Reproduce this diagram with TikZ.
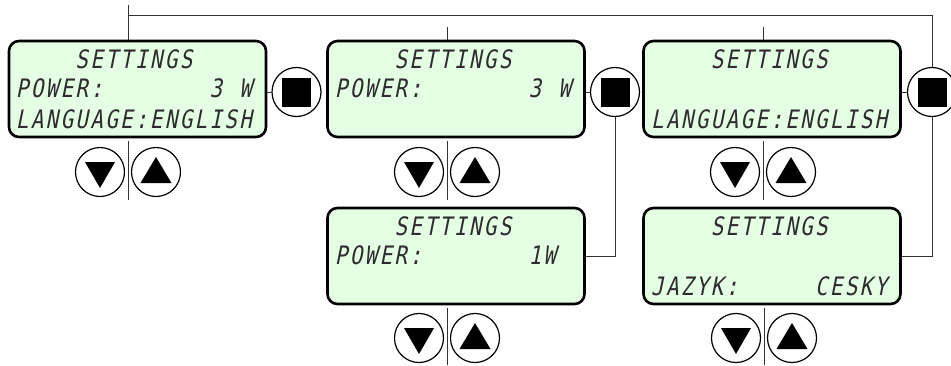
\documentclass[tikz,border=0pt]{standalone}
\usepackage{fontspec}
\newfontfamily\lcdfont[FakeStretch=0.82,FakeSlant=0.2]{DejaVu Sans Mono}
\usetikzlibrary{calc}
\definecolor{lcdfill}{RGB}{229,255,229}
\definecolor{lcdtext}{RGB}{45,45,45}
\definecolor{connc}{RGB}{50,50,50}
\newcommand\lcdrow[1]{\lcdnext#1\relax}
\def\lcdnext#1{\ifx\relax#1\else\makebox[14.9pt][l]{\ifx.#1\else#1\fi}\expandafter\lcdnext\fi}
\begin{document}
\begin{tikzpicture}[x=1pt,y=-1pt,
  lcd/.style={draw=black,line width=2.6pt,fill=lcdfill,rounded corners=10pt,
    minimum width=257pt,minimum height=96pt,inner sep=0pt},
  row/.style={anchor=base west,inner sep=0pt,text=lcdtext,
    font=\fontsize{25.4}{30}\selectfont\lcdfont},
  btn/.style={draw=black,line width=1.2pt,circle,minimum size=49pt,inner sep=0pt,fill=white},
  conn/.style={draw=connc,line width=1pt}]
\useasboundingbox (0,0) rectangle (951,365);

% boxes
\node[lcd] (b1) at (137.5,89) {};
\node[lcd] (b2) at (456,89) {};
\node[lcd] (b3) at (772,89) {};
\node[lcd] (b4) at (456,256) {};
\node[lcd] (b5) at (772,256) {};

% texts
\node[row] (t11) at (15.7,68) {\lcdrow{....SETTINGS}};
\node[row] (t12) at (15.7,97) {\lcdrow{POWER:.......3.W}};
\node[row] (t13) at (15.7,128) {\lcdrow{LANGUAGE:ENGLISH}};
\node[row] (t21) at (334.7,68) {\lcdrow{....SETTINGS}};
\node[row] (t22) at (334.7,97) {\lcdrow{POWER:.......3.W}};
\node[row] (t31) at (651,68) {\lcdrow{....SETTINGS}};
\node[row] (t33) at (651,128) {\lcdrow{LANGUAGE:ENGLISH}};
\node[row] (t41) at (334.7,235) {\lcdrow{....SETTINGS}};
\node[row] (t42) at (334.7,264) {\lcdrow{POWER:.......1W}};
\node[row] (t51) at (651,235) {\lcdrow{....SETTINGS}};
\node[row] (t53) at (651,295) {\lcdrow{JAZYK:.....CESKY}};

% coordinates for connector ends
\coordinate (top1) at (128,5);
\coordinate (topbar) at (128,15);
\coordinate (corner) at (932,15);
\coordinate (stub2) at (447,27);
\coordinate (stub3) at (763,27);
\coordinate (u1) at (128,200);
\coordinate (u2) at (447,200);
\coordinate (u3) at (763,200);
\coordinate (u4) at (447,365);
\coordinate (u5) at (764,365);

% square buttons
\node[btn] (s1) at (296.5,92) {};
\node[btn] (s2) at (615,92) {};
\node[btn] (s3) at (932,92) {};
\foreach \s in {s1,s2,s3}{
  \fill[black] ($(\s.center)+(-14.5,-14.5)$) rectangle ($(\s.center)+(14.5,14.5)$);
}

% connectors
\draw[conn] (b1.north -| top1) -- (top1);
\draw[conn] (topbar) -- (corner) -- (s3.north);
\draw[conn] (stub2 |- b2.north) -- (stub2);
\draw[conn] (stub3 |- b3.north) -- (stub3);
\draw[conn] (s1.west) -- (s1.west -| b1.east);
\draw[conn] (s2.west) -- (s2.west -| b2.east);
\draw[conn] (s3.west) -- (s3.west -| b3.east);
\draw[conn] (s2.south) |- (b4.east);
\draw[conn] (s3.south) |- (b5.east);
\draw[conn] ($(b1.south -| u1)+(0,3)$) -- (u1);
\draw[conn] ($(b2.south -| u2)+(0,3)$) -- (u2);
\draw[conn] ($(b3.south -| u3)+(0,3)$) -- (u3);
\draw[conn] ($(b4.south -| u4)+(0,3)$) -- (u4);
\draw[conn] ($(b5.south -| u5)+(0,3)$) -- (u5);

% arrow buttons
\node[btn] (d1) at (100,172) {};
\node[btn] (a1) at (156,172) {};
\node[btn] (d2) at (419,172) {};
\node[btn] (a2) at (475,172) {};
\node[btn] (d3) at (735,172) {};
\node[btn] (a3) at (791,172) {};
\node[btn] (d4) at (419,338) {};
\node[btn] (a4) at (475,338) {};
\node[btn] (d5) at (736,338) {};
\node[btn] (a5) at (792,338) {};
\foreach \d in {d1,d2,d3,d4,d5}{
  \fill[black] ($(\d.center)+(-15,-10)$) -- ($(\d.center)+(15,-10)$) -- ($(\d.center)+(0,16)$) -- cycle;
}
\foreach \a in {a1,a2,a3,a4,a5}{
  \fill[black] ($(\a.center)+(0,-15)$) -- ($(\a.center)+(15.5,11)$) -- ($(\a.center)+(-15.5,11)$) -- cycle;
}
\end{tikzpicture}
\end{document}
